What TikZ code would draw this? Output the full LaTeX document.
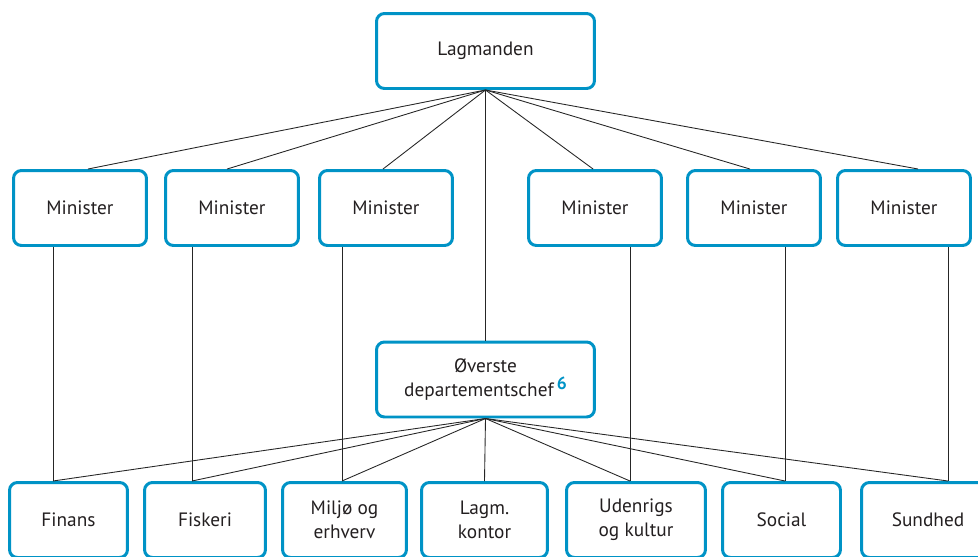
\documentclass[tikz,border=0pt]{standalone}
\usepackage{fontspec}
\setmainfont{PT Sans}
\usepackage{tikz}
\definecolor{fblue}{HTML}{0093C6}
\definecolor{ftext}{HTML}{231F20}

\begin{document}
\begin{tikzpicture}[x=0.02cm,y=-0.02cm,
		box/.style={draw=fblue,line width=1.7pt,rounded corners=4.5pt,minimum height=1.5cm,
			align=center,text=ftext,inner sep=2pt,font=\fontsize{11}{13.5}\selectfont},
		lnk/.style={line width=0.5pt,draw=black!85}]
		\useasboundingbox (0,0) rectangle (978,556);
		%
		\node[box,minimum width=4.36cm] (L) at (485.5,51) {Lagmanden};
		\node[box,minimum width=2.66cm] (M1) at (80,208) {Minister};
		\node[box,minimum width=2.66cm] (M2) at (232,208) {Minister};
		\node[box,minimum width=2.66cm] (M3) at (386,208) {Minister};
		\node[box,minimum width=2.66cm] (M4) at (595,208) {Minister};
		\node[box,minimum width=2.66cm] (M5) at (754,208) {Minister};
		\node[box,minimum width=2.66cm] (M6) at (904,208) {Minister};
		\node[box,minimum width=4.36cm] (O) at (485.5,379.5) {Øverste\\departementschef\,\raisebox{0.7ex}{\normalsize\bfseries\color{fblue}6}};
		%
		\node[box,minimum width=2.36cm] (D1) at (68.5,520) {Finans};
		\node[box,minimum width=2.42cm] (D2) at (205,520) {Fiskeri};
		\node[box,minimum width=2.48cm] (D3) at (344.5,520) {Miljø og\\erhverv};
		\node[box,minimum width=2.52cm] (D4) at (484.5,520) {Lagm.\\kontor};
		\node[box,minimum width=2.78cm] (D5) at (636,520) {Udenrigs\\og kultur};
		\node[box,minimum width=2.36cm] (D6) at (781.5,520) {Social};
		\node[box,minimum width=2.66cm] (D7) at (928,520) {Sundhed};
		%
		\coordinate (t1) at (53,481);
		\coordinate (t2) at (192,481);
		\coordinate (t3) at (342,481);
		\coordinate (t5) at (630,481);
		\coordinate (t6) at (785,481);
		\coordinate (t7) at (948,481);
		%
		\path[lnk]
		(L.south) edge ([xshift=4.5pt]M1.north)
		(L.south) edge ([xshift=-2.8pt]M2.north)
		(L.south) edge ([xshift=-1.7pt]M3.north)
		(L.south) edge ([xshift=-1.1pt]M4.north)
		(L.south) edge ([xshift=-2.3pt]M5.north)
		(L.south) edge ([xshift=8pt]M6.north)
		(L.south) edge (O.north);
		%
		\path[lnk]
		(t1 |- M1.south) edge (t1)
		(t2 |- M2.south) edge (t2)
		(t3 |- M3.south) edge (t3)
		(t5 |- M4.south) edge (t5)
		(t6 |- M5.south) edge (t6)
		(t7 |- M6.south) edge (t7);
		%
		\path[lnk]
		(O.south) edge (t1)
		(O.south) edge (t2)
		(O.south) edge (t3)
		(O.south) edge (D4.north)
		(O.south) edge (t5)
		(O.south) edge (t6)
		(O.south) edge (t7);
	\end{tikzpicture}
\end{document}
